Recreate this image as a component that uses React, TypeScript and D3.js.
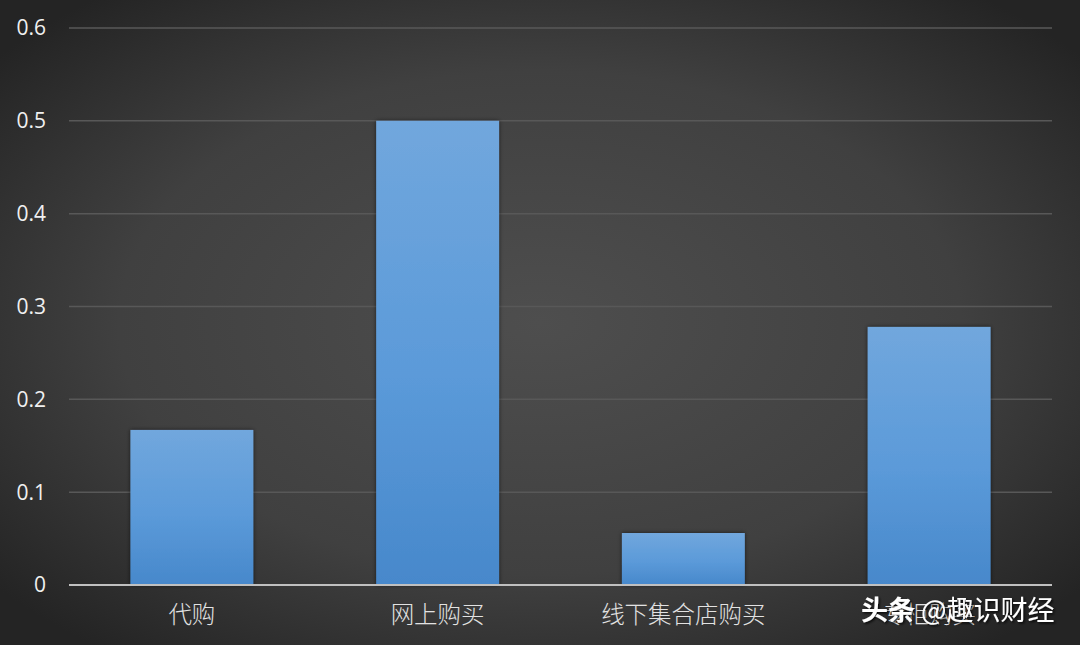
import React, { useEffect, useRef } from 'react';
import * as d3 from 'd3';

const categories = ['代购', '网上购买', '线下集合店购买', '专柜购买'];
const values = [0.167, 0.5, 0.056, 0.278];
const yTicks = [0, 0.1, 0.2, 0.3, 0.4, 0.5, 0.6];

const width = 1080;
const height = 645;
const margin = { top: 28, right: 28, bottom: 60, left: 69 };

const App: React.FC = () => {
  const svgRef = useRef<SVGSVGElement>(null);

  useEffect(() => {
    if (!svgRef.current) return;
    document.body.style.margin = '0';

    const svg = d3.select(svgRef.current);
    svg.selectAll('*').remove();

    const defs = svg.append('defs');

    // background: soft radial vignette
    const bg = defs.append('radialGradient')
      .attr('id', 'bg')
      .attr('cx', '50%').attr('cy', '50%').attr('r', '65%');
    bg.append('stop').attr('offset', '0%').attr('stop-color', '#4e4e4e');
    bg.append('stop').attr('offset', '60%').attr('stop-color', '#404040');
    bg.append('stop').attr('offset', '100%').attr('stop-color', '#242424');

    const barGrad = defs.append('linearGradient')
      .attr('id', 'bar')
      .attr('x1', 0).attr('y1', 0).attr('x2', 0).attr('y2', 1);
    barGrad.append('stop').attr('offset', '0%').attr('stop-color', '#71a7dd');
    barGrad.append('stop').attr('offset', '55%').attr('stop-color', '#5b9ad9');
    barGrad.append('stop').attr('offset', '100%').attr('stop-color', '#4788cb');

    const shadow = defs.append('filter')
      .attr('id', 'shadow')
      .attr('x', '-20%').attr('y', '-20%').attr('width', '140%').attr('height', '140%');
    shadow.append('feDropShadow')
      .attr('dx', 0).attr('dy', 0).attr('stdDeviation', 2)
      .attr('flood-color', '#000').attr('flood-opacity', 0.6);

    const wmShadow = defs.append('filter').attr('id', 'wm');
    wmShadow.append('feDropShadow')
      .attr('dx', 1.5).attr('dy', 1.5).attr('stdDeviation', 1)
      .attr('flood-color', '#000').attr('flood-opacity', 0.8);

    svg.append('rect')
      .attr('width', width).attr('height', height)
      .attr('fill', 'url(#bg)');

    const x = d3.scaleBand<string>()
      .domain(categories)
      .range([margin.left, width - margin.right])
      .paddingInner(0.5)
      .paddingOuter(0.25);

    const y = d3.scaleLinear()
      .domain([0, 0.6])
      .range([height - margin.bottom, margin.top]);

    // gridlines
    svg.append('g')
      .selectAll('line')
      .data(yTicks.slice(1))
      .join('line')
      .attr('x1', margin.left)
      .attr('x2', width - margin.right)
      .attr('y1', d => y(d))
      .attr('y2', d => y(d))
      .attr('stroke', '#585858')
      .attr('stroke-width', 1.5);

    // y tick labels
    svg.append('g')
      .selectAll('text')
      .data(yTicks)
      .join('text')
      .attr('x', 46)
      .attr('y', d => y(d))
      .attr('dy', '0.35em')
      .attr('text-anchor', 'end')
      .attr('fill', '#f0f0f0')
      .attr('font-family', '"Open Sans", "Noto Sans", sans-serif')
      .attr('font-size', 21)
      .text(d => String(d));

    // bars
    svg.append('g')
      .selectAll('rect')
      .data(values)
      .join('rect')
      .attr('x', (_, i) => x(categories[i]) ?? 0)
      .attr('y', d => y(d))
      .attr('width', x.bandwidth())
      .attr('height', d => y(0) - y(d))
      .attr('fill', 'url(#bar)')
      .attr('filter', 'url(#shadow)');

    // baseline
    svg.append('line')
      .attr('x1', margin.left)
      .attr('x2', width - margin.right)
      .attr('y1', y(0))
      .attr('y2', y(0))
      .attr('stroke', '#c0c0c0')
      .attr('stroke-width', 2);

    // category labels
    svg.append('g')
      .selectAll('text')
      .data(categories)
      .join('text')
      .attr('x', d => (x(d) ?? 0) + x.bandwidth() / 2)
      .attr('y', 623)
      .attr('text-anchor', 'middle')
      .attr('fill', '#e2e2e2')
      .attr('font-family', '"Noto Sans CJK SC", sans-serif')
      .attr('font-weight', 300)
      .attr('font-size', 23.5)
      .text(d => d);

    // watermark (sits over the last label, as in the source image)
    const wm = svg.append('text')
      .attr('x', 861)
      .attr('y', 620)
      .attr('fill', '#ffffff')
      .attr('font-family', '"Noto Sans CJK SC", sans-serif')
      .attr('font-size', 27)
      .attr('filter', 'url(#wm)');
    wm.append('tspan').attr('font-weight', 700).text('头条');
    wm.append('tspan').attr('font-weight', 400).attr('dx', 6).text('@趣识财经');
  }, []);

  return (
    <div style={{ position: 'absolute', left: 0, top: 0 }}>
      <svg ref={svgRef} width={width} height={height} style={{ display: 'block' }} />
    </div>
  );
};

export default App;
